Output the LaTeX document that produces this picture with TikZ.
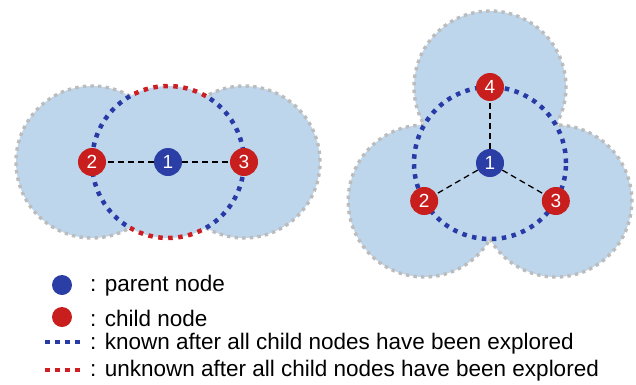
\documentclass[tikz,border=0pt]{standalone}
\usepackage{fontspec}
\setmainfont{Liberation Sans}
\usetikzlibrary{calc}
\definecolor{zonefill}{RGB}{190,214,236}
\definecolor{rimgray}{RGB}{188,188,188}
\definecolor{knownblue}{RGB}{40,58,165}
\definecolor{unknownred}{RGB}{205,30,35}
\definecolor{parentblue}{RGB}{42,62,165}
\definecolor{childred}{RGB}{200,30,30}
\begin{document}
\begin{tikzpicture}[x=1pt,y=1pt,
  zone/.style={fill=zonefill},
  rim/.style={draw=rimgray, line width=3.4pt, dash pattern=on 3.4pt off 4.2pt},
  knownarc/.style={draw=knownblue, line width=4.5pt, dash pattern=on 4.5pt off 5.5pt},
  unknownarc/.style={draw=unknownred, line width=4.5pt, dash pattern=on 4.5pt off 5.5pt},
  link/.style={draw=black, line width=1.3pt, dash pattern=on 6pt off 4pt},
  numbered/.style={circle, text=white, minimum size=28pt, inner sep=0pt,
    font=\fontsize{19}{19}\selectfont},
  parent/.style={numbered, fill=parentblue},
  child/.style={numbered, fill=childred},
  legenddot/.style={circle, minimum size=20pt, inner sep=0pt},
  legendtext/.style={anchor=west, inner sep=0pt, font=\fontsize{22.5}{27}\selectfont},
]
\useasboundingbox (0,0) rectangle (636,384);

% ---------- left configuration: two children on a line ----------
\coordinate (L1) at (168,222);
\coordinate (L2) at (92,222);
\coordinate (L3) at (244,222);
\fill[zone] (L1) circle[radius=76] (L2) circle[radius=76] (L3) circle[radius=76];
\draw[rim] (L2) ++(60:76) arc[start angle=60, end angle=300, radius=76];
\draw[rim] (L3) ++(-120:76) arc[start angle=-120, end angle=120, radius=76];
\draw[knownarc] (L1) ++(120:76) arc[start angle=120, end angle=240, radius=76];
\draw[knownarc] (L1) ++(-60:76) arc[start angle=-60, end angle=60, radius=76];
\draw[unknownarc] (L1) ++(60:76) arc[start angle=60, end angle=120, radius=76];
\draw[unknownarc] (L1) ++(240:76) arc[start angle=240, end angle=300, radius=76];
\node[parent] (l1) at (L1) {1};
\node[child] (l2) at (L2) {2};
\node[child] (l3) at (L3) {3};
\draw[link] (l1) -- (l2);
\draw[link] (l1) -- (l3);

% ---------- right configuration: three children at 120 degrees ----------
\coordinate (R1) at (490,221);
\coordinate (R4) at ($(R1)+(90:76)$);
\coordinate (R2) at ($(R1)+(210:76)$);
\coordinate (R3) at ($(R1)+(330:76)$);
\fill[zone] (R4) circle[radius=76] (R2) circle[radius=76] (R3) circle[radius=76];
\draw[rim] (R4) ++(-30:76) arc[start angle=-30, end angle=210, radius=76];
\draw[rim] (R2) ++(90:76) arc[start angle=90, end angle=330, radius=76];
\draw[rim] (R3) ++(210:76) arc[start angle=210, end angle=450, radius=76];
\draw[knownarc] (R1) circle[radius=76];
\node[parent] (r1) at (R1) {1};
\node[child] (r2) at (R2) {2};
\node[child] (r3) at (R3) {3};
\node[child] (r4) at (R4) {4};
\draw[link] (r1) -- (r2);
\draw[link] (r1) -- (r3);
\draw[link] (r1) -- (r4);

% ---------- legend ----------
\node[legenddot, fill=parentblue] (kp) at (62,99) {};
\node[legendtext] (tp) at (90,98) {: parent node};
\node[legenddot, fill=childred] (kc) at (62,67) {};
\node[legendtext] (tc) at (90,66) {: child node};
\coordinate (kb0) at (45,42);
\coordinate (kb1) at (83,42);
\draw[knownarc] (kb0) -- (kb1);
\node[legendtext] (tk) at (90,40) {: known after all child nodes have been explored};
\coordinate (kr0) at (45,14);
\coordinate (kr1) at (83,14);
\draw[unknownarc] (kr0) -- (kr1);
\node[legendtext] (tu) at (90,13) {: unknown after all child nodes have been explored};
\end{tikzpicture}
\end{document}
